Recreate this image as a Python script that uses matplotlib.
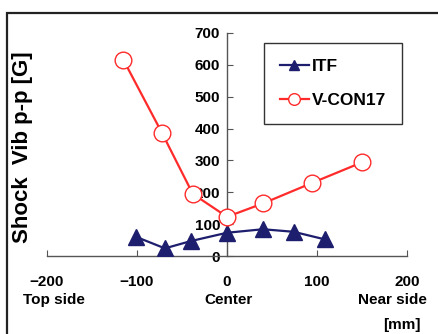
import matplotlib
matplotlib.use("Agg")
import matplotlib.pyplot as plt
from matplotlib.lines import Line2D

plt.rcParams['font.family'] = ['Liberation Sans', 'DejaVu Sans']
plt.rcParams['font.weight'] = 'bold'

itf_x = [-101, -69, -40, 0, 40, 74, 109]
itf_y = [60, 24, 47, 73, 84, 76, 52]
vcon_x = [-115, -72, -38, 0, 40, 95, 150]
vcon_y = [615, 385, 195, 123, 165, 230, 294]
xticks = [-200, -100, 0, 100, 200]
yticks = [0, 100, 200, 300, 400, 500, 600, 700]

W, H = 439, 334
fig = plt.figure(figsize=(W / 100, H / 100), dpi=100)
fig.lines.append(Line2D([7.5 / W, 7.5 / W, 1.0], [0.0, 1 - 12.5 / H, 1 - 12.5 / H],
                        transform=fig.transFigure, color='#222222', linewidth=1.6,
                        solid_joinstyle='miter'))

ax = fig.add_axes([47 / W, (H - 256) / H, 360 / W, 223 / H])
ax.set_xlim(-200, 200)
ax.set_ylim(0, 700)

navy = '#1E1E6E'
red = '#FF2A2A'
ax.plot(itf_x, itf_y, color=navy, lw=1.6, marker='^', ms=11, mfc=navy, mec=navy,
        label='ITF', zorder=3)
ax.plot(vcon_x, vcon_y, color=red, lw=1.6, marker='o', ms=12, mfc='white', mec=red,
        mew=1.0, label='V-CON17', zorder=4)

for s in ['top', 'right']:
    ax.spines[s].set_visible(False)
ax.spines['left'].set_position(('data', 0))
ax.spines['bottom'].set_position(('data', 0))
for s in ['left', 'bottom']:
    ax.spines[s].set_color('#555555')
    ax.spines[s].set_linewidth(1.0)

ax.set_xticks(xticks)
ax.set_yticks(yticks)
ax.set_yticklabels([str(v) for v in yticks])
ax.set_xticklabels([str(v).replace('-', '\u2212') for v in xticks])
ax.tick_params(axis='both', direction='in', length=4, color='#555555', labelsize=11)
ax.tick_params(axis='y', pad=5)
ax.tick_params(axis='x', pad=14)
for lbl in ax.get_xticklabels() + ax.get_yticklabels():
    lbl.set_fontweight('bold')
    lbl.set_zorder(5)

fig.text(23 / W, 1 - 147 / H, 'Shock  Vib p-p [G]', rotation=90, ha='center', va='center',
         fontsize=16, fontweight='bold')
fig.text(54 / W, 1 - 300 / H, 'Top side', ha='center', va='center', fontsize=11, fontweight='bold')
fig.text(229 / W, 1 - 300 / H, 'Center', ha='center', va='center', fontsize=11, fontweight='bold')
fig.text(392 / W, 1 - 300 / H, 'Near side', ha='center', va='center', fontsize=11, fontweight='bold')
fig.text(402 / W, 1 - 325 / H, '[mm]', ha='center', va='center', fontsize=11, fontweight='bold')

leg = ax.legend(loc='upper left', bbox_to_anchor=((264 - 47) / 360, (256 - 43) / 223),
                frameon=True, fancybox=False, edgecolor='#333333', framealpha=1,
                fontsize=12.5, handlelength=1.7, handletextpad=0.15, labelspacing=1.1,
                borderpad=0.9, markerscale=0.7, borderaxespad=0)
leg.get_frame().set_linewidth(1.0)
for t in leg.get_texts():
    t.set_fontweight('bold')

fig.savefig('out.png', dpi=100)
